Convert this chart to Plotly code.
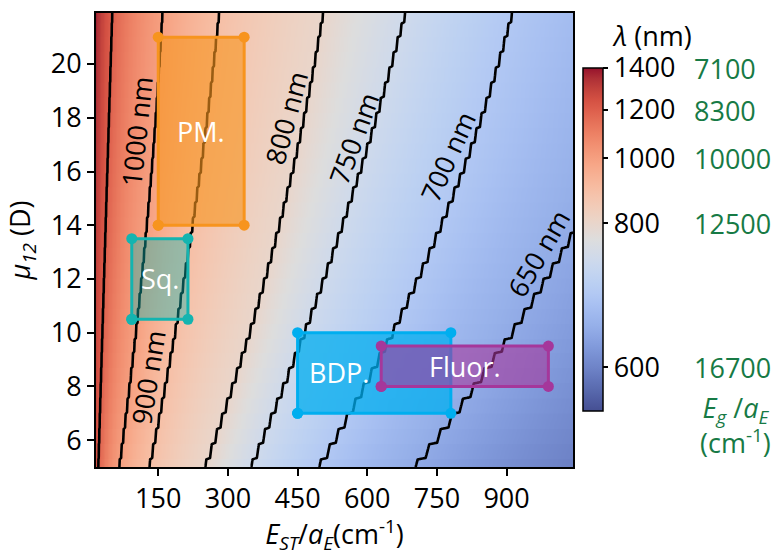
import numpy as np
import plotly.graph_objects as go

# ---------------------------------------------------------------------------
# Emission wavelength map: lambda(E_ST/a_E, mu_12)
# Each iso-wavelength line is given by where it crosses mu = 5, 13 and 21.9 D.
# ---------------------------------------------------------------------------
LEVELS_NM = [1200, 1000, 900, 800, 750, 700, 650]
MU_NODES = [5.0, 13.0, 21.9]
X_AT_MU5 = [21, 66, 131, 251, 350, 496, 703]
X_AT_MU13 = [35, 120, 215, 396, 527, 735, 1020]
X_AT_MU22 = [51, 159, 281, 505, 682, 912, 1270]

# colour-bar ticks: wavelength (nm) and the matching gap energy E_g/a_E (cm-1)
CBAR_NM = [600, 800, 1000, 1200, 1400]
CBAR_ENERGY = ["16700", "12500", "10000", "8300", "7100"]

# molecular families (E_ST/a_E range, mu_12 range)
BOX_NAMES = ["PM.", "Sq.", "BDP.", "Fluor."]
BOX_X = [(150, 335), (93, 214), (450, 780), (630, 990)]
BOX_MU = [(14.0, 21.0), (10.5, 13.5), (7.0, 10.0), (8.0, 9.5)]
BOX_LABEL_X = [242, 154, 540, 810]

X_RANGE = [16, 1043]
MU_RANGE = [5.0, 21.9]

# ---------------------------------------------------------------------------
# wavelength field on a grid (mu sampled in coarse steps, as the model was run)
# ---------------------------------------------------------------------------
MU_STEP = 0.56
x = np.linspace(X_RANGE[0], X_RANGE[1], 360)
mu = np.linspace(MU_RANGE[0], MU_RANGE[1], 300)
mu_node = MU_STEP * np.round(mu / MU_STEP)
mu_eval = mu_node + 0.35 * (mu - mu_node)

energy_levels = 1e7 / np.array(LEVELS_NM, float)          # cm-1, increasing
table = np.array([X_AT_MU5, X_AT_MU13, X_AT_MU22], float)
coefs = [np.polyfit(MU_NODES, table[:, k], 2) for k in range(len(LEVELS_NM))]

s = x ** 0.4
lam = np.empty((mu.size, x.size))
for i, m in enumerate(mu_eval):
    sk = np.array([np.polyval(c, m) for c in coefs]) ** 0.4
    e = np.interp(s, sk, energy_levels)
    lo, hi = s < sk[0], s > sk[-1]
    e[lo] = energy_levels[0] + (s[lo] - sk[0]) * (energy_levels[1] - energy_levels[0]) / (sk[1] - sk[0])
    e[hi] = energy_levels[-1] + (s[hi] - sk[-1]) * (energy_levels[-1] - energy_levels[-2]) / (sk[-1] - sk[-2])
    lam[i] = 1e7 / e

# non-uniform colour norm (position of each wavelength along the colour bar)
NORM_NM = [540, 600, 800, 1000, 1200, 1400]
NORM_POS = [0.0, 0.1274, 0.5472, 0.7367, 0.8776, 1.0]


def to_pos(v):
    return np.interp(v, NORM_NM, NORM_POS)


# "coolwarm" with the blue half toned down as in print
COOLWARM = [
    (59, 76, 192), (68, 90, 204), (77, 104, 215), (87, 117, 225), (98, 130, 234),
    (108, 142, 241), (119, 154, 247), (130, 165, 251), (141, 176, 254), (152, 185, 255),
    (163, 194, 255), (174, 201, 253), (184, 208, 249), (194, 213, 244), (204, 217, 238),
    (213, 219, 230), (221, 221, 221), (229, 216, 209), (236, 211, 197), (241, 204, 185),
    (245, 196, 173), (247, 187, 160), (247, 177, 148), (247, 166, 135), (244, 154, 123),
    (241, 141, 111), (236, 127, 99), (229, 112, 88), (222, 96, 77), (213, 80, 66),
    (203, 62, 56), (192, 40, 47), (180, 4, 38),
]
colorscale = []
n = len(COOLWARM) - 1
for i, (r, g, b) in enumerate(COOLWARM):
    t = i / n
    lum = 0.3 * r + 0.59 * g + 0.11 * b
    k = 0.42 * max(0.0, 1 - t / 0.5) ** 0.7
    if t > 0.9:
        k = 0.25 * (t - 0.9) / 0.1
    rr, gg, bb = (c + k * (lum - c) for c in (r, g, b))
    colorscale.append([t, "rgb(%d,%d,%d)" % (round(rr), round(gg), round(bb))])

# figure geometry (paper fractions of the plotting area)
CB_Y, CB_LEN = 0.501, 0.7555
CB_Y0 = CB_Y - CB_LEN / 2

FONT = "Open Sans"
GREEN = "#177a45"

fig = go.Figure()

fig.add_trace(go.Heatmap(
    x=x, y=mu, z=to_pos(lam), zmin=0, zmax=1, zsmooth="best",
    colorscale=colorscale, hoverinfo="skip",
    colorbar=dict(
        x=1.021, xanchor="left", xpad=0, y=CB_Y, yanchor="middle", ypad=0,
        len=CB_LEN, lenmode="fraction", thickness=20,
        outlinewidth=1.5, outlinecolor="black",
        tickvals=list(to_pos(CBAR_NM)), ticktext=[str(v) for v in CBAR_NM],
        ticks="outside", ticklen=5, tickwidth=1.5, tickcolor="black",
        tickfont=dict(family=FONT, size=27, color="black"),
    ),
))

for level in LEVELS_NM:
    fig.add_trace(go.Contour(
        x=x, y=mu, z=lam, autocontour=False,
        contours=dict(start=level, end=level, size=1, coloring="none"),
        line=dict(color="black", width=2.6, smoothing=0.6),
        showscale=False, hoverinfo="skip",
    ))

BOX_EDGE = ["rgb(247,148,30)", "rgb(20,180,176)", "rgb(0,174,239)", "rgb(165,55,155)"]
BOX_FILL = ["rgba(247,148,30,0.62)", "rgba(20,180,176,0.42)",
            "rgba(0,174,239,0.75)", "rgba(165,55,155,0.6)"]

for name, (x0, x1), (m0, m1), edge, fill in zip(BOX_NAMES, BOX_X, BOX_MU, BOX_EDGE, BOX_FILL):
    fig.add_trace(go.Scatter(
        x=[x0, x1, x1, x0, x0], y=[m0, m0, m1, m1, m0], mode="lines+markers",
        fill="toself", fillcolor=fill, line=dict(color=edge, width=3),
        marker=dict(color=edge, size=11), hoverinfo="skip", name=name,
    ))

for name, lx, (m0, m1) in zip(BOX_NAMES, BOX_LABEL_X, BOX_MU):
    fig.add_annotation(x=lx, y=(m0 + m1) / 2, text=name, showarrow=False,
                       font=dict(family=FONT, size=27, color="white"))

# iso-wavelength labels, set alongside their lines
CONTOUR_LABELS = [
    (1000, 103, 17.5, -84),
    (900, 127, 8.35, -81),
    (800, 426, 18.0, -75),
    (750, 570, 17.24, -70),
    (700, 774, 16.54, -66),
    (650, 968, 12.95, -60),
]
for level, lx, ly, ang in CONTOUR_LABELS:
    fig.add_annotation(x=lx, y=ly, text=f"{level} nm", showarrow=False, textangle=ang,
                       font=dict(family=FONT, size=27, color="black"))

# second colour-bar scale: gap energy
for pos, txt in zip(to_pos(CBAR_NM), CBAR_ENERGY):
    fig.add_annotation(xref="paper", yref="paper", x=1.2495, y=CB_Y0 + pos * CB_LEN,
                       xanchor="left", yanchor="middle", text=txt, showarrow=False,
                       font=dict(family=FONT, size=27, color=GREEN))
fig.add_annotation(xref="paper", yref="paper", x=1.34, y=0.093, xanchor="center",
                   yanchor="middle", showarrow=False, align="center",
                   text="<i>E</i><sub><i>g</i></sub> /<i>a</i><sub><i>E</i></sub><br>(cm<sup>-1</sup>)",
                   font=dict(family=FONT, size=27, color=GREEN))
fig.add_annotation(xref="paper", yref="paper", x=1.1656, y=0.9515, xanchor="center",
                   yanchor="middle", showarrow=False, text="<i>λ</i> (nm)",
                   font=dict(family=FONT, size=27, color="black"))

axis_common = dict(
    showgrid=False, zeroline=False, showline=True, linecolor="black", linewidth=2,
    mirror=True, ticks="outside", ticklen=7, tickwidth=2, tickcolor="black",
    tickfont=dict(family=FONT, size=27, color="black"), automargin=False,
)
fig.update_xaxes(range=X_RANGE, tickvals=[150, 300, 450, 600, 750, 900],
                 title=dict(text="<i>E</i><sub><i>ST</i></sub>/<i>a</i><sub><i>E</i></sub>(cm<sup>-1</sup>)",
                            standoff=21, font=dict(family=FONT, size=27, color="black")),
                 **axis_common)
fig.update_yaxes(range=MU_RANGE, tickvals=[6, 8, 10, 12, 14, 16, 18, 20],
                 title=dict(text="<i>μ</i><sub><i>12</i></sub> (D)", standoff=12,
                            font=dict(family=FONT, size=27, color="black")),
                 **axis_common)

fig.update_layout(
    width=777, height=556, margin=dict(l=96, r=204, t=13, b=89),
    paper_bgcolor="white", plot_bgcolor="white", showlegend=False,
    font=dict(family=FONT, size=27, color="black"),
)

fig.write_html("out.html")
